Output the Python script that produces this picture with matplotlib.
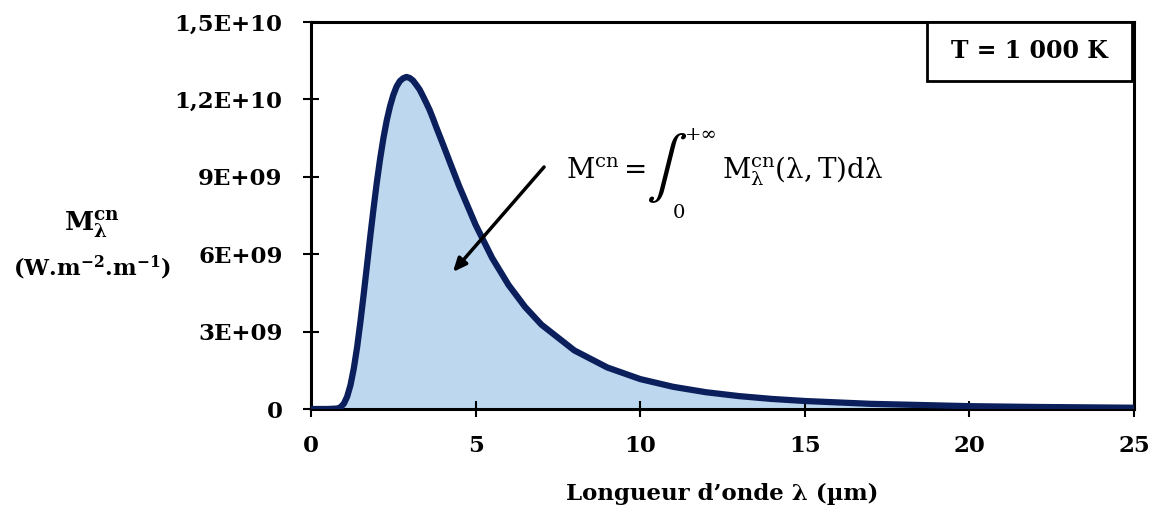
import matplotlib
matplotlib.use("Agg")
import matplotlib.pyplot as plt
from matplotlib.patches import Rectangle

# Wavelength (µm) and spectral exitance (W.m-2.m-1)
wavelength = [0, 0.5, 0.8, 0.9, 1.0, 1.1, 1.2, 1.3, 1.4, 1.5, 1.6, 1.7, 1.8, 1.9,
              2.0, 2.1, 2.2, 2.3, 2.4, 2.5, 2.6, 2.7, 2.8, 2.9, 3.0, 3.1, 3.2,
              3.3, 3.4, 3.5, 3.6, 3.7, 3.8, 4.0, 4.25, 4.5, 5.0, 5.5, 6.0, 6.5,
              7.0, 8.0, 9.0, 10, 11, 12, 13, 14, 15, 17, 20, 22, 25]
exitance = [0, 0, 1.8e7, 7.2e7, 2.1e8, 4.85e8, 9.3e8, 1.57e9, 2.39e9, 3.37e9,
            4.44e9, 5.56e9, 6.69e9, 7.77e9, 8.79e9, 9.70e9, 1.050e10, 1.118e10,
            1.173e10, 1.217e10, 1.250e10, 1.271e10, 1.282e10, 1.287e10, 1.283e10,
            1.273e10, 1.256e10, 1.238e10, 1.213e10, 1.187e10, 1.160e10, 1.128e10,
            1.094e10, 1.029e10, 9.46e9, 8.64e9, 7.14e9, 5.86e9, 4.81e9, 3.96e9,
            3.27e9, 2.27e9, 1.61e9, 1.16e9, 8.6e8, 6.5e8, 5.0e8, 3.9e8, 3.1e8,
            2.0e8, 1.1e8, 7.9e7, 4.9e7]

x_ticks = [0, 5, 10, 15, 20, 25]
y_ticks = [0, 3e9, 6e9, 9e9, 1.2e10, 1.5e10]
y_tick_labels = ["0", "3E+09", "6E+09", "9E+09", "1,2E+10", "1,5E+10"]

serif = "DejaVu Serif"
plt.rcParams["font.family"] = [serif]
plt.rcParams["mathtext.fontset"] = "dejavuserif"

W, H = 1157, 511
fig = plt.figure(figsize=(W / 100, H / 100), dpi=100)
ax = fig.add_axes([311 / W, 1 - 409 / H, (1134 - 311) / W, (409 - 22) / H])

def fx(px):
    return px / W

def fy(py):
    return 1 - py / H

line_col = "#0A1F5C"
fill_col = "#BDD7EE"
ax.fill_between(wavelength, exitance, 0, color=fill_col, lw=0, zorder=1)
ax.plot(wavelength, exitance, color=line_col, lw=4.5, solid_capstyle="butt",
        solid_joinstyle="round", zorder=3)

ax.set_xlim(0, 25)
ax.set_ylim(0, 1.5e10)
ax.set_xticks(x_ticks)
ax.set_yticks(y_ticks)
ax.set_yticklabels(y_tick_labels)
ax.tick_params(direction="inout", length=11, width=1.5, labelsize=16.5)
ax.tick_params(axis="x", pad=13)
ax.tick_params(axis="y", pad=15)
for lab in ax.get_xticklabels() + ax.get_yticklabels():
    lab.set_fontweight("bold")
for s in ax.spines.values():
    s.set_linewidth(2.2)
    s.set_color("black")
    s.set_zorder(2)

ax.set_xlabel("Longueur d\u2019onde \u03bb (\u00b5m)", fontsize=16.5, fontweight="bold", labelpad=19)

fig.text(fx(92), fy(224), r"$\mathbf{M_{\lambda}^{cn}}$", fontsize=19, ha="center", va="center")
fig.text(fx(92), fy(268), r"(W.m$^{\mathbf{-2}}$.m$^{\mathbf{-1}}$)", fontsize=16,
         fontweight="bold", ha="center", va="center")

# Formula
fs = 20
fig.text(fx(566), fy(178), r"$\mathrm{M^{cn}}$", fontsize=fs, ha="left", va="baseline")
fig.text(fx(624), fy(178), "=", fontsize=fs, ha="left", va="baseline")
fig.text(fx(646), fy(168), r"$\int$", fontsize=44, ha="left", va="center",
         math_fontfamily="stix")
fig.text(fx(685), fy(140), "+\u221e", fontsize=14, ha="left", va="baseline")
fig.text(fx(673), fy(218), "0", fontsize=14, ha="left", va="baseline")
fig.text(fx(722), fy(178), r"$\mathrm{M_{\lambda}^{cn}(\lambda, T)d\lambda}$", fontsize=fs,
         ha="left", va="baseline")

ax.annotate("", xy=(4.31, 5.31e9), xytext=(7.08, 9.38e9),
            arrowprops=dict(arrowstyle="-|>,head_length=0.8,head_width=0.35",
                            color="black", lw=2.5, shrinkA=0, shrinkB=0), zorder=4)

# Temperature box
bx0 = (927 - 311) / (1134 - 311)
bx1 = (1132 - 311) / (1134 - 311)
by0 = (409 - 81) / (409 - 22)
ax.add_patch(Rectangle((bx0, by0), bx1 - bx0, 1 - by0, transform=ax.transAxes,
                       fc="white", ec="black", lw=2, zorder=5, clip_on=False))
ax.text((bx0 + bx1) / 2, (by0 + 1) / 2, "T = 1 000 K", transform=ax.transAxes,
        fontsize=17, fontweight="bold", ha="center", va="center", zorder=6)

fig.savefig("out.png", dpi=100)
